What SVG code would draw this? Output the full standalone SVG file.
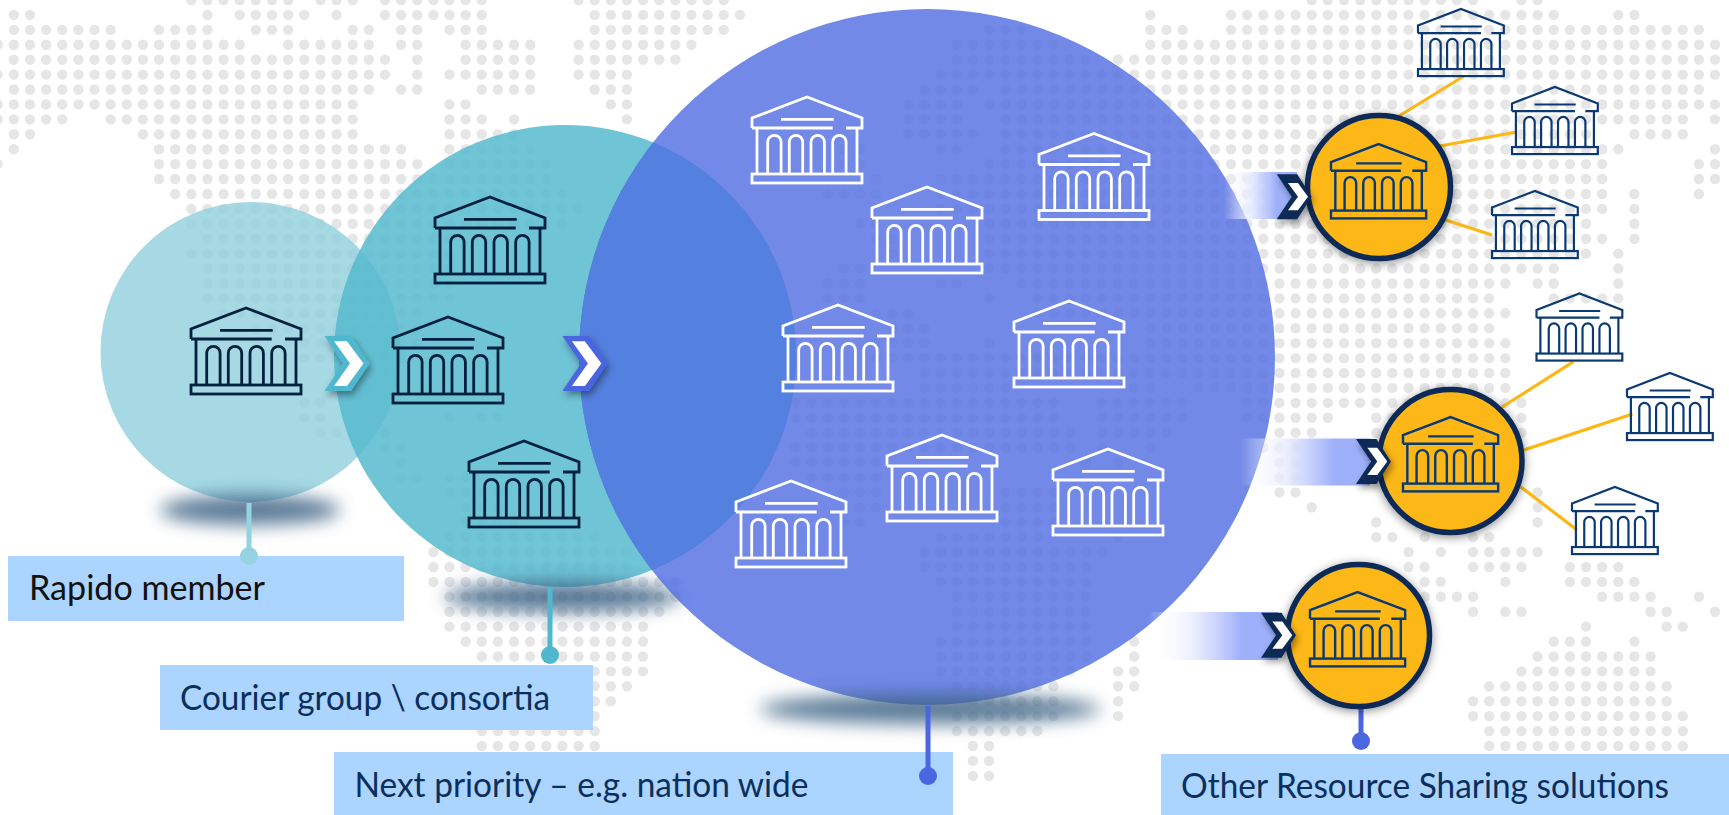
<svg xmlns="http://www.w3.org/2000/svg" xmlns:xlink="http://www.w3.org/1999/xlink" width="1729" height="815" viewBox="0 0 1729 815">
<style>
.dots path{fill:none;stroke:#e6e6e7;stroke-width:10.4;stroke-linecap:round;stroke-dasharray:0 16.135;vector-effect:non-scaling-stroke}
.w{stroke:#fff}.d{stroke:#03213f}.n{stroke:#0b3a73}
.lbl{fill:#abd4fe}
.t{font-family:Lato,"Liberation Sans",sans-serif;font-size:34px;fill:#0b2f5c}
.gold{fill:#fdb714;stroke:#0b2a57;stroke-width:5.5;filter:url(#ds)}
.ln{fill:none;stroke:#fdb714;stroke-width:3.2}
.st{fill:none;stroke-width:5}
.sh{filter:url(#bl);fill:#3d6485;opacity:.85}
</style>
<defs>
<filter id="bl" x="-30%" y="-150%" width="160%" height="400%"><feGaussianBlur stdDeviation="9"/></filter>
<filter id="ds" x="-30%" y="-30%" width="160%" height="160%"><feDropShadow dx="0" dy="2" stdDeviation="5" flood-color="#000" flood-opacity=".45"/></filter>
<filter id="cs" x="-40%" y="-40%" width="190%" height="190%"><feDropShadow dx="2" dy="4" stdDeviation="3.5" flood-color="#000" flood-opacity=".4"/></filter>
<linearGradient id="fade"><stop offset="0" stop-color="#fff" stop-opacity="0"/><stop offset=".35" stop-color="#e8ecfe" stop-opacity=".85"/><stop offset=".72" stop-color="#9fb0fb"/><stop offset="1" stop-color="#9fb0fb"/></linearGradient>
<clipPath id="cm"><circle cx="565" cy="356" r="231"/></clipPath>
<g id="bank" fill="none" stroke-width="2.8">
<path d="M0 31V21L55 0L110 21V31H94M80.7 31H0M29 22.4H81.7M5 31V77M105 31V77"/>
<rect x="0" y="77" width="110" height="9"/>
<path d="M15.7 77V45a6.7 6.7 0 0 1 13.4 0V77M37.3 77V45a6.7 6.7 0 0 1 13.4 0V77M59 77V45a6.7 6.7 0 0 1 13.4 0V77M80.7 77V45a6.7 6.7 0 0 1 13.4 0V77"/>
</g>
<g id="chevB"><polygon points="0,0 26.5,0 45,27.5 26.5,55 0,55 18.5,27.5"/><polygon fill="#fff" points="9.5,5.3 22.5,5.3 39,27.5 22.5,50 9.5,50 25.5,27.5"/></g>
<g id="chevS"><polygon fill="#0b2a57" points="0,0 20.5,0 35,22.5 20.5,45 0,45 15,22.5"/><polygon fill="#fff" points="11.3,8.7 21.3,8.7 31.3,22.5 21.3,36 11.3,36 21.3,22.5"/></g>
</defs>
<rect width="1729" height="815" fill="#fff"/>
<g id="map" class="dots">
<g transform="translate(13.84 0) scale(16.135 14.92)"><path d="M11 0H17.01M19 0H21.01M23 0H29.01M35 0H44.01M0 1H1.01M12 1H12.01M14 1H18.01M20 1H20.01M23 1H29.01M36 1H45.01M0 2H6.01M9 2H12.01M15 2H17.01M21 2H22.01M24 2H25.01M27 2H29.01M36 2H44.01M-1 3H14.01M17 3H22.01M24 3H25.01M28 3H32.01M35 3H42.01M0 4H23.01M25 4H25.01M28 4H32.01M35 4H41.01M-1 5H23.01M25 5H25.01M27 5H32.01M35 5H38.01M0 6H22.01M24 6H25.01M29 6H32.01M36 6H38.01M-1 7H21.01M27 7H28.01M37 7H38.01M-1 8H3.01M6 8H21.01M27 8H29.01M31 8H31.01M38 8H38.01M0 9H1.01M8 9H21.01M27 9H31.01M0 10H0.01M9 10H24.01M27 10H32.01M-1 11H-0.99M9 11H25.01M27 11H33.01M9 12H33.01M10 13H34.01M11 14H35.01M11 15H34.01M12 16H27.01M11 17H27.01M12 18H27.01M12 19H27.01M12 20H27.01M13 21H25.01M15 22H25.01M17 23H25.01M18 24H24.01M20 25H23.01M20 26H22.01M18 27H19.01M18 28H19.01M27 28H27.01M29 28H30.01M19 29H20.01M23 29H23.01M23 30H24.01M24 31H24.01M24 32H25.01M27 32H28.01M27 33H30.01M28 34H30.01M28 35H31.01M27 36H36.01M26 37H38.01M26 38H38.01M26 39H41.01M27 40H41.01M27 41H40.01M27 42H39.01M28 43H39.01M29 44H39.01M29 45H39.01M29 46H38.01M29 47H37.01M29 48H36.01M29 49H36.01M29 50H36.01"/></g>
<g transform="translate(989 0) scale(16.135 14.92)"><path d="M20 0H30.01M33 0H34.01M10 1H10.01M15 1H35.01M39 1H40.01M0 2H2.01M10 2H12.01M15 2H44.01M-2 3H4.01M10 3H45.01M-2 4H6.01M8 4H45.01M-3 5H45.01M-4 6H-0.99M1 6H44.01M-5 7H-1.99M0 7H45.01M-5 8H-1.99M1 8H43.01M45 8H45.01M-5 9H-0.99M1 9H37.01M40 9H43.01M-9 10H-7.99M-3 10H-1.99M1 10H39.01M45 10H45.01M-9 11H-7.99M0 11H38.01M44 11H45.01M-7 12H-6.99M-3 12H38.01M44 12H45.01M-10 13H-6.99M-3 13H38.01M40 13H40.01M44 13H44.01M-3 14H38.01M40 14H40.01M-8 15H-6.99M0 15H37.01M40 15H40.01M-7 16H-5.99M0 16H38.01M40 16H40.01M-6 17H-5.99M0 17H37.01M39 17H39.01M-9 18H-7.99M0 18H35.01M39 18H39.01M-10 19H-7.99M-3 19H-1.99M2 19H32.01M34 19H35.01M39 19H39.01M-10 20H-7.99M0 20H0.01M3 20H31.01M35 20H39.01M-7 21H-4.99M3 21H32.01M-6 22H-3.99M10 22H31.01M-7 23H-3.99M0 23H0.01M10 23H32.01M-7 24H32.01M-4 25H32.01M-4 26H1.01M9 26H10.01M13 26H32.01M-12 27H4.01M7 27H12.01M16 27H33.01M-12 28H4.01M7 28H12.01M16 28H21.01M24 28H33.01M-11 29H5.01M7 29H11.01M18 29H20.01M24 29H33.01M-12 30H5.01M7 30H7.01M10 30H10.01M17 30H19.01M-12 31H-6.99M6 31H6.01M8 31H8.01M18 31H19.01M-11 32H-6.99M18 32H19.01M-9 33H-6.99M1 33H4.01M18 33H19.01M34 33H34.01M-8 34H-6.99M1 34H4.01M20 34H20.01M34 34H34.01M-9 35H-7.99M1 35H4.01M24 35H24.01M34 35H34.01M-3 36H3.01M8 36H8.01M24 36H25.01M27 36H27.01M30 36H31.01M-4 37H7.01M26 37H26.01M28 37H28.01M30 37H34.01M-4 38H6.01M26 38H27.01M30 38H33.01M36 38H39.01M-3 39H6.01M27 39H28.01M32 39H32.01M36 39H40.01M-2 40H6.01M27 40H30.01M38 40H41.01M44 40H44.01M-2 41H6.01M30 41H30.01M32 41H33.01M41 41H42.01M45 41H45.01M-2 42H6.01M37 42H37.01M42 42H43.01M-3 43H6.01M9 43H9.01M35 43H37.01M40 43H40.01M-3 44H6.01M9 44H9.01M34 44H41.01M-3 45H5.01M8 45H9.01M33 45H41.01M-2 46H4.01M8 46H9.01M31 46H42.01M-1 47H4.01M8 47H8.01M30 47H42.01M-2 48H4.01M8 48H8.01M30 48H43.01M-2 49H3.01M31 49H43.01M-1 50H0.01M31 50H43.01M-1 51H0.01M-1 52H0.01"/></g>
</g>
<g id="circle-member">
<circle cx="250.5" cy="352" r="150" fill="#90cfdd" fill-opacity=".8"/>
<ellipse class="sh" cx="250" cy="510" rx="90" ry="15"/>
</g>
<g id="circle-courier">
<circle cx="565" cy="356" r="231" fill="#56bacf" fill-opacity=".85"/>
<ellipse class="sh" cx="563" cy="597" rx="118" ry="15"/>
</g>
<g id="circle-next">
<circle cx="927" cy="357" r="348" fill="#536fe3" fill-opacity=".82"/>
<circle cx="927" cy="357" r="348" fill="#5480df" clip-path="url(#cm)"/>
<ellipse class="sh" cx="930" cy="709" rx="170" ry="15"/>
</g>
<g id="flows">
<rect x="1224" y="172" width="73" height="47" fill="url(#fade)"/>
<rect x="1240" y="438.5" width="130" height="47" fill="url(#fade)"/>
<rect x="1148" y="612" width="130" height="48" fill="url(#fade)"/>
</g>
<g id="node-member"><use xlink:href="#bank" class="d" transform="translate(191 308)"/></g>
<g id="node-courier-1"><use xlink:href="#bank" class="d" transform="translate(435 197)"/></g>
<g id="node-courier-2"><use xlink:href="#bank" class="d" transform="translate(393 317)"/></g>
<g id="node-courier-3"><use xlink:href="#bank" class="d" transform="translate(469 441)"/></g>
<g id="node-next-1"><use xlink:href="#bank" class="w" transform="translate(752 97)"/></g>
<g id="node-next-2"><use xlink:href="#bank" class="w" transform="translate(1039 133.5)"/></g>
<g id="node-next-3"><use xlink:href="#bank" class="w" transform="translate(872 187)"/></g>
<g id="node-next-4"><use xlink:href="#bank" class="w" transform="translate(783 305)"/></g>
<g id="node-next-5"><use xlink:href="#bank" class="w" transform="translate(1014 301)"/></g>
<g id="node-next-6"><use xlink:href="#bank" class="w" transform="translate(887 435)"/></g>
<g id="node-next-7"><use xlink:href="#bank" class="w" transform="translate(1053 449)"/></g>
<g id="node-next-8"><use xlink:href="#bank" class="w" transform="translate(736 481)"/></g>
<g id="label-member"><rect class="lbl" x="8" y="556" width="396" height="65"/><text class="t" x="29" y="600" style="fill:#111" textLength="236" lengthAdjust="spacingAndGlyphs">Rapido member</text></g>
<g id="label-courier"><rect class="lbl" x="160" y="665" width="433" height="65"/><text class="t" x="180" y="710" textLength="370" lengthAdjust="spacingAndGlyphs">Courier group \ consortia</text></g>
<g id="label-next"><rect class="lbl" x="334" y="752" width="619" height="63"/><text class="t" x="354.5" y="797" textLength="454" lengthAdjust="spacingAndGlyphs">Next priority – e.g. nation wide</text></g>
<g id="label-other"><rect class="lbl" x="1161" y="754" width="568" height="61"/><text class="t" x="1181" y="798" textLength="488" lengthAdjust="spacingAndGlyphs">Other Resource Sharing solutions</text></g>
<g id="connectors">
<path class="st" stroke="#96d3e0" d="M249 503V556"/><circle cx="249" cy="556" r="9" fill="#96d3e0"/>
<path class="st" stroke="#4fb8cf" d="M550 587V655"/><circle cx="550" cy="655" r="9" fill="#4fb8cf"/>
<path class="st" stroke="#4a66e0" d="M928 706V776"/><circle cx="928" cy="776" r="9" fill="#4a66e0"/>
<path class="st" stroke="#4a66e0" d="M1361 707V741"/><circle cx="1361" cy="741" r="9" fill="#4a66e0"/>
<path class="ln" d="M1399 116L1464 76M1440 146L1516.5 132M1445.6 220L1492 235M1502 407L1573.5 361.7M1524 450L1632.5 414M1520.5 486.7L1577 530"/>
</g>
<g id="node-gold-1"><circle class="gold" cx="1379" cy="187" r="71.5"/><use xlink:href="#bank" class="n" transform="translate(1331 144) scale(.865)"/></g>
<g id="node-gold-2"><circle class="gold" cx="1450.5" cy="461" r="71.5"/><use xlink:href="#bank" class="n" transform="translate(1403 417) scale(.865)"/></g>
<g id="node-gold-3"><circle class="gold" cx="1358.5" cy="635.5" r="71"/><use xlink:href="#bank" class="n" transform="translate(1310 592) scale(.865)"/></g>
<g id="node-a"><use xlink:href="#bank" class="n" transform="translate(1418 9) scale(.78)"/></g>
<g id="node-b"><use xlink:href="#bank" class="n" transform="translate(1512 87) scale(.78)"/></g>
<g id="node-c"><use xlink:href="#bank" class="n" transform="translate(1492 191) scale(.78)"/></g>
<g id="node-d"><use xlink:href="#bank" class="n" transform="translate(1536.5 293.5) scale(.78)"/></g>
<g id="node-e"><use xlink:href="#bank" class="n" transform="translate(1627 373) scale(.78)"/></g>
<g id="node-f"><use xlink:href="#bank" class="n" transform="translate(1572 487) scale(.78)"/></g>
<g id="chevrons">
<use xlink:href="#chevB" fill="#4fb8cf" filter="url(#cs)" transform="translate(324.5 336)"/>
<use xlink:href="#chevB" fill="#4a66e0" filter="url(#cs)" transform="translate(562.4 336)"/>
<use xlink:href="#chevS" filter="url(#cs)" transform="translate(1276.7 174.3)"/>
<use xlink:href="#chevS" filter="url(#cs)" transform="translate(1356 439)"/>
<use xlink:href="#chevS" filter="url(#cs)" transform="translate(1261 612.7)"/>
</g>
</svg>
